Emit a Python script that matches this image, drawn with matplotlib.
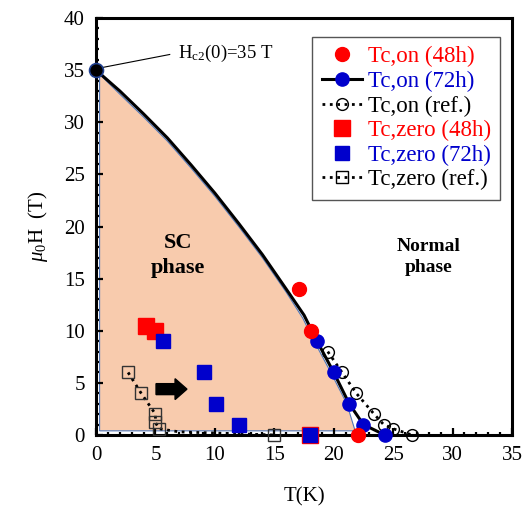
"""Upper critical field phase diagram: H vs T with onset / zero-resistance points."""

import matplotlib
matplotlib.use("Agg")

import matplotlib.pyplot as plt
from matplotlib.lines import Line2D
from matplotlib.ticker import MultipleLocator

plt.rcParams["font.family"] = ["Liberation Serif", "DejaVu Serif"]
plt.rcParams["mathtext.fontset"] = "custom"
plt.rcParams["mathtext.rm"] = "Liberation Serif"
plt.rcParams["mathtext.it"] = "Liberation Serif:italic"

# Hc2 fit curve, joins onto the 72h onset points
fit_T = [0.0, 2.0, 4.0, 6.0, 8.0, 10.0, 12.0, 14.0, 16.0, 17.5]
fit_H = [35.0, 33.0, 30.8, 28.5, 25.9, 23.2, 20.3, 17.3, 14.0, 11.5]

# SC region boundary (shaded area)
sc_T = [0.3, 0.3, 2.0, 4.0, 6.0, 8.0, 10.0, 12.0, 14.0, 16.0, 17.4, 18.4, 19.8, 21.1, 21.8, 0.3]
sc_H = [0.4, 34.6, 32.7, 30.5, 28.2, 25.6, 22.9, 20.0, 17.0, 13.7, 11.2, 8.9, 5.9, 3.0, 0.4, 0.4]

on48_T = [17.1, 18.1, 22.0]
on48_H = [14.0, 10.0, 0.0]

on72_T = [18.6, 20.0, 21.3, 22.5, 24.3]
on72_H = [9.0, 6.0, 3.0, 1.0, 0.0]

onref_T = [19.5, 20.7, 21.9, 23.4, 24.2, 25.0, 26.6]
onref_H = [8.0, 6.0, 4.0, 2.0, 1.0, 0.6, 0.0]

zero48_T = [4.2, 5.0, 18.0]
zero48_H = [10.5, 10.0, 0.0]

zero72_T = [5.6, 9.1, 10.1, 12.0, 18.0]
zero72_H = [9.0, 6.0, 3.0, 1.0, 0.0]

zeroref_T = [2.7, 3.8, 5.0, 5.0, 5.3, 7.0, 15.0]
zeroref_H = [6.0, 4.0, 2.0, 1.2, 0.6, 0.3, 0.0]
zeroref_marked = [0, 1, 2, 3, 4, 6]

RED = "#ff0000"
BLUE = "#0000cc"
PEACH = "#f8cbad"

fig = plt.figure(figsize=(5.23, 5.07), dpi=100)
ax = fig.add_axes([0.1836, 0.142, 0.7954, 0.8225])

ax.fill(sc_T, sc_H, facecolor=PEACH, edgecolor="#4f76b8", linewidth=0.8, zorder=1)

# fit line + 72h onset points
ax.plot(fit_T + on72_T, fit_H + on72_H, color="k", lw=2.2, zorder=3)
ax.plot(on72_T, on72_H, "o", color=BLUE, ms=9.5, zorder=5, clip_on=False)

ax.plot(on48_T, on48_H, "o", color=RED, ms=10, zorder=5, clip_on=False)
ax.plot(onref_T, onref_H, ":", color="k", lw=2, marker="o", mfc="none",
        mec="k", ms=8.5, mew=1.0, zorder=4, clip_on=False)

ax.plot(zero48_T, zero48_H, "s", color=RED, ms=11.5, zorder=5, clip_on=False)
ax.plot(zero72_T, zero72_H, "s", color=BLUE, ms=9.5, zorder=6, clip_on=False)
ax.plot(zeroref_T, zeroref_H, ":", color="k", lw=2, marker="s", mfc="none",
        mec="#333333", ms=8, mew=1.0, markevery=zeroref_marked, zorder=4,
        clip_on=False)

# Hc2(0) point and label
ax.plot([0], [35], "o", color="k", mec="#1f3f8f", ms=10, mew=1.2, zorder=7, clip_on=False)
ax.plot([0.3, 6.2], [35.2, 36.5], color="k", lw=0.8, zorder=6)
ax.text(6.9, 36.6, r"H$_{\rm c2}$(0)=35 T", fontsize=13.5, va="center", ha="left")

ax.arrow(5.05, 4.4, 2.6, 0, width=1.05, head_width=2.0, head_length=1.0,
         length_includes_head=True, color="k", zorder=6)

ax.text(6.9, 17.2, "SC\nphase", fontsize=16, fontweight="bold", ha="center",
        va="center", linespacing=1.35)
ax.text(28.0, 17.1, "Normal\nphase", fontsize=14, fontweight="bold", ha="center",
        va="center", linespacing=1.3)

ax.set_xlim(0, 35)
ax.set_ylim(0, 40)
ax.xaxis.set_major_locator(MultipleLocator(5))
ax.xaxis.set_minor_locator(MultipleLocator(1))
ax.yaxis.set_major_locator(MultipleLocator(5))
ax.yaxis.set_minor_locator(MultipleLocator(1))
ax.tick_params(which="both", direction="in", top=False, right=False, labelsize=15)
ax.tick_params(which="major", length=5, width=1.6, pad=8)
ax.tick_params(which="minor", length=2.5, width=1.6)
for s in ax.spines.values():
    s.set_linewidth(2.2)

ax.set_xlabel("T(K)", fontsize=15, labelpad=16)
ax.set_ylabel(r"$\mu_0$H  (T)", fontsize=15, labelpad=10)

handles = [
    Line2D([], [], ls="none", marker="o", color=RED, ms=10),
    Line2D([], [], ls="-", lw=2.2, color="k", marker="o", mfc=BLUE, mec=BLUE, ms=9.5),
    Line2D([], [], ls=":", lw=2, color="k", marker="o", mfc="none", mec="k", ms=8.5),
    Line2D([], [], ls="none", marker="s", color=RED, ms=11.5),
    Line2D([], [], ls="none", marker="s", color=BLUE, ms=9.5),
    Line2D([], [], ls=":", lw=2, color="k", marker="s", mfc="none", mec="k", ms=8),
]
labels = ["Tc,on (48h)", "Tc,on (72h)", "Tc,on (ref.)",
          "Tc,zero (48h)", "Tc,zero (72h)", "Tc,zero (ref.)"]
leg = ax.legend(handles, labels, loc="upper right", bbox_to_anchor=(0.971, 0.954),
                borderaxespad=0, fontsize=16.5, handlelength=1.75, handletextpad=0.26,
                labelspacing=0.15, borderpad=0.4, fancybox=False, framealpha=1,
                edgecolor="#555555", labelcolor=[RED, BLUE, "k", RED, BLUE, "k"])
leg.get_frame().set_linewidth(1.0)
leg.set_zorder(10)

fig.savefig("out.png", dpi=100)
